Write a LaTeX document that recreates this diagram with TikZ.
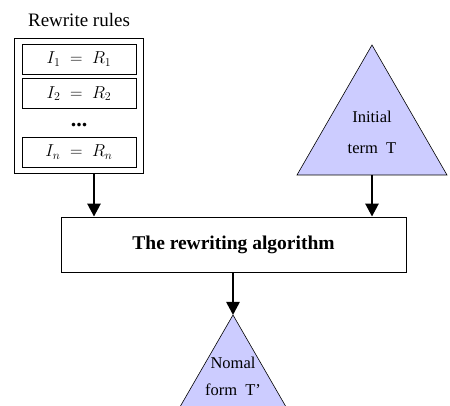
\documentclass[tikz,border=0pt]{standalone}
\usepackage{fontspec}
\setmainfont{Liberation Serif}
\usetikzlibrary{arrows.meta}
\definecolor{lav}{HTML}{CCCCFF}
\tikzset{
  box/.style={draw, line width=0.8pt, inner sep=0pt},
  rulebox/.style={draw, line width=0.8pt, minimum width=114pt, minimum height=30pt, inner sep=0pt, font=\fontsize{18}{20}\selectfont},
  tri/.style={draw, fill=lav, line width=0.6pt},
  lbl/.style={font=\fontsize{16.5}{18}\selectfont, inner sep=0pt},
  flow/.style={line width=2.6pt, -{Triangle[length=13pt,width=13pt]}, shorten >=0pt}
}
\begin{document}
\begin{tikzpicture}[x=1pt,y=1pt]
\useasboundingbox (0,0) rectangle (450,406);
\clip (0,0) rectangle (450,406);
% rewrite rules
\node[lbl, font=\fontsize{19}{21}\selectfont] (title) at (79,386) {Rewrite rules};
\node[box, minimum width=129pt, minimum height=135pt] (rules) at (78.5,300.5) {};
\node[rulebox] (r1) at (79,347) {$I_1 \;=\; R_1$};
\node[rulebox] (r2) at (79,312.5) {$I_2 \;=\; R_2$};
\node[lbl, font=\fontsize{22}{22}\bfseries] (dots) at (79,281) {...};
\node[rulebox] (rn) at (79,254) {$I_n \;=\; R_n$};
% main box
\node[box, minimum width=345pt, minimum height=55pt, font=\fontsize{19.5}{22}\selectfont\bfseries] (alg) at (233.5,161.5) {The rewriting algorithm};
% initial term triangle
\coordinate (ta) at (372,361);
\coordinate (tl) at (297,231);
\coordinate (tr) at (447,231);
\coordinate (tb) at (372,231);
\draw[tri] (ta) -- (tr) -- (tl) -- cycle;
\node[lbl] (init1) at (372,289) {Initial};
\node[lbl] (init2) at (372,258) {term\ \ T};
% normal form triangle
\coordinate (na) at (233,91);
\coordinate (nl) at (158,-39);
\coordinate (nr) at (308,-39);
\draw[tri] (na) -- (nr) -- (nl) -- cycle;
\node[lbl] (nf1) at (233,43) {Nomal};
\node[lbl] (nf2) at (233,16) {form\ \ T'};
% arrows
\draw[flow] (rules.south -| 94,0) -- (alg.north -| 94,0);
\draw[flow] (tb) -- (alg.north -| tb);
\draw[flow] (alg.south -| na) -- (na);
\end{tikzpicture}
\end{document}
